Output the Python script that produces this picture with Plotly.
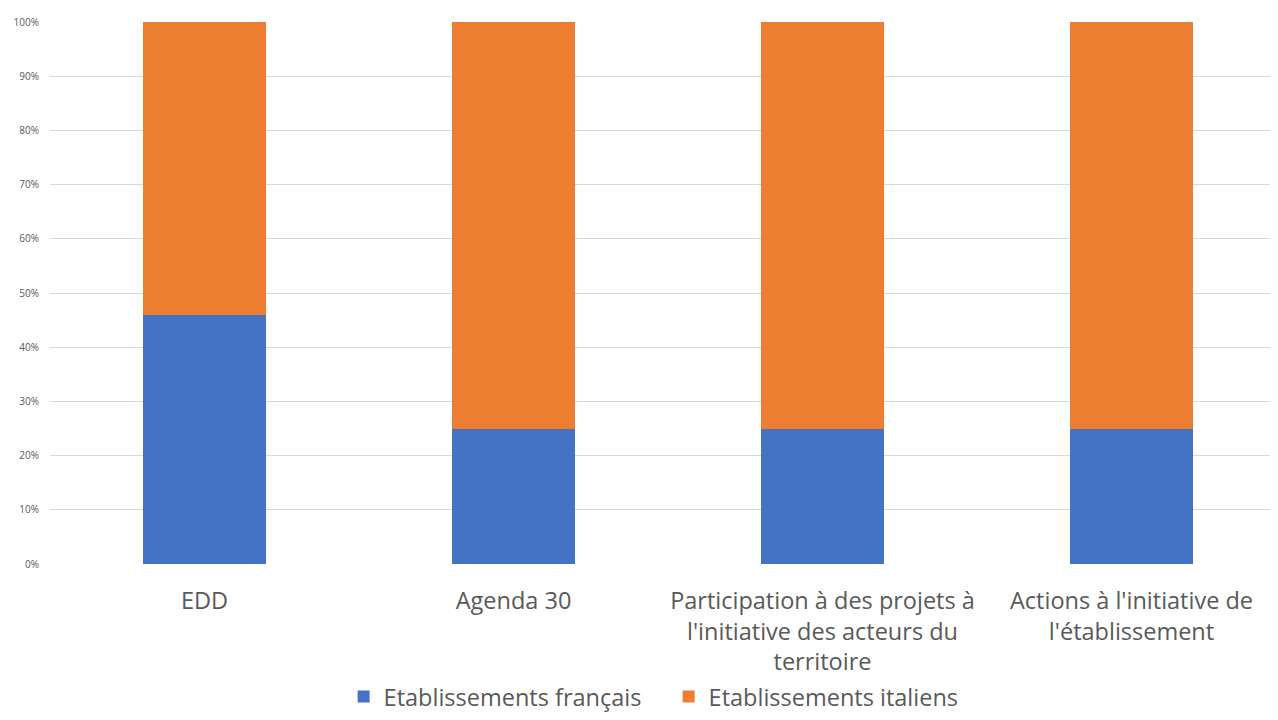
import plotly.graph_objects as go

categories = ["EDD", "Agenda 30",
              "Participation à des projets à<br>l'initiative des acteurs du<br>territoire",
              "Actions à l'initiative de<br>l'établissement"]
francais = [0.46, 0.25, 0.25, 0.25]
italiens = [0.54, 0.75, 0.75, 0.75]
ytick_vals = [i / 10 for i in range(11)]
ytick_text = [f"{i*10}%" for i in range(11)]

fig = go.Figure()
fig.add_trace(go.Bar(x=categories, y=francais, name="Etablissements français",
                     marker=dict(color="#4472C4", line_width=0)))
fig.add_trace(go.Bar(x=categories, y=italiens, name="Etablissements italiens",
                     marker=dict(color="#ED7D31", line_width=0)))

fig.update_layout(
    barmode="stack", bargap=0.6,
    width=1278, height=720,
    margin=dict(l=41.5, r=0, t=13.5, b=164),
    paper_bgcolor="white", plot_bgcolor="white",
    font=dict(family="Open Sans, Noto Sans, sans-serif", color="#595959"),
    showlegend=True,
    legend=dict(orientation="h", x=0.5005, xref="paper", xanchor="center",
                y=-0.245, yanchor="middle", font=dict(size=23.5, color="#595959"),
                itemwidth=30, traceorder="normal", entrywidth=280),
    xaxis=dict(range=[-0.5, 3.5], showgrid=False, zeroline=False, showline=False,
               ticks="outside", ticklen=16, tickcolor="rgba(0,0,0,0)",
               tickfont=dict(size=23.5, color="#595959")),
    yaxis=dict(range=[0, 1.0], tickvals=ytick_vals, ticktext=ytick_text,
               showgrid=True, gridcolor="#D9D9D9", gridwidth=1, zeroline=False,
               showline=False, tickfont=dict(size=10, color="#595959"),
               ticks="outside", ticklen=8, tickcolor="rgba(0,0,0,0)"),
)

fig.write_html("out.html")
